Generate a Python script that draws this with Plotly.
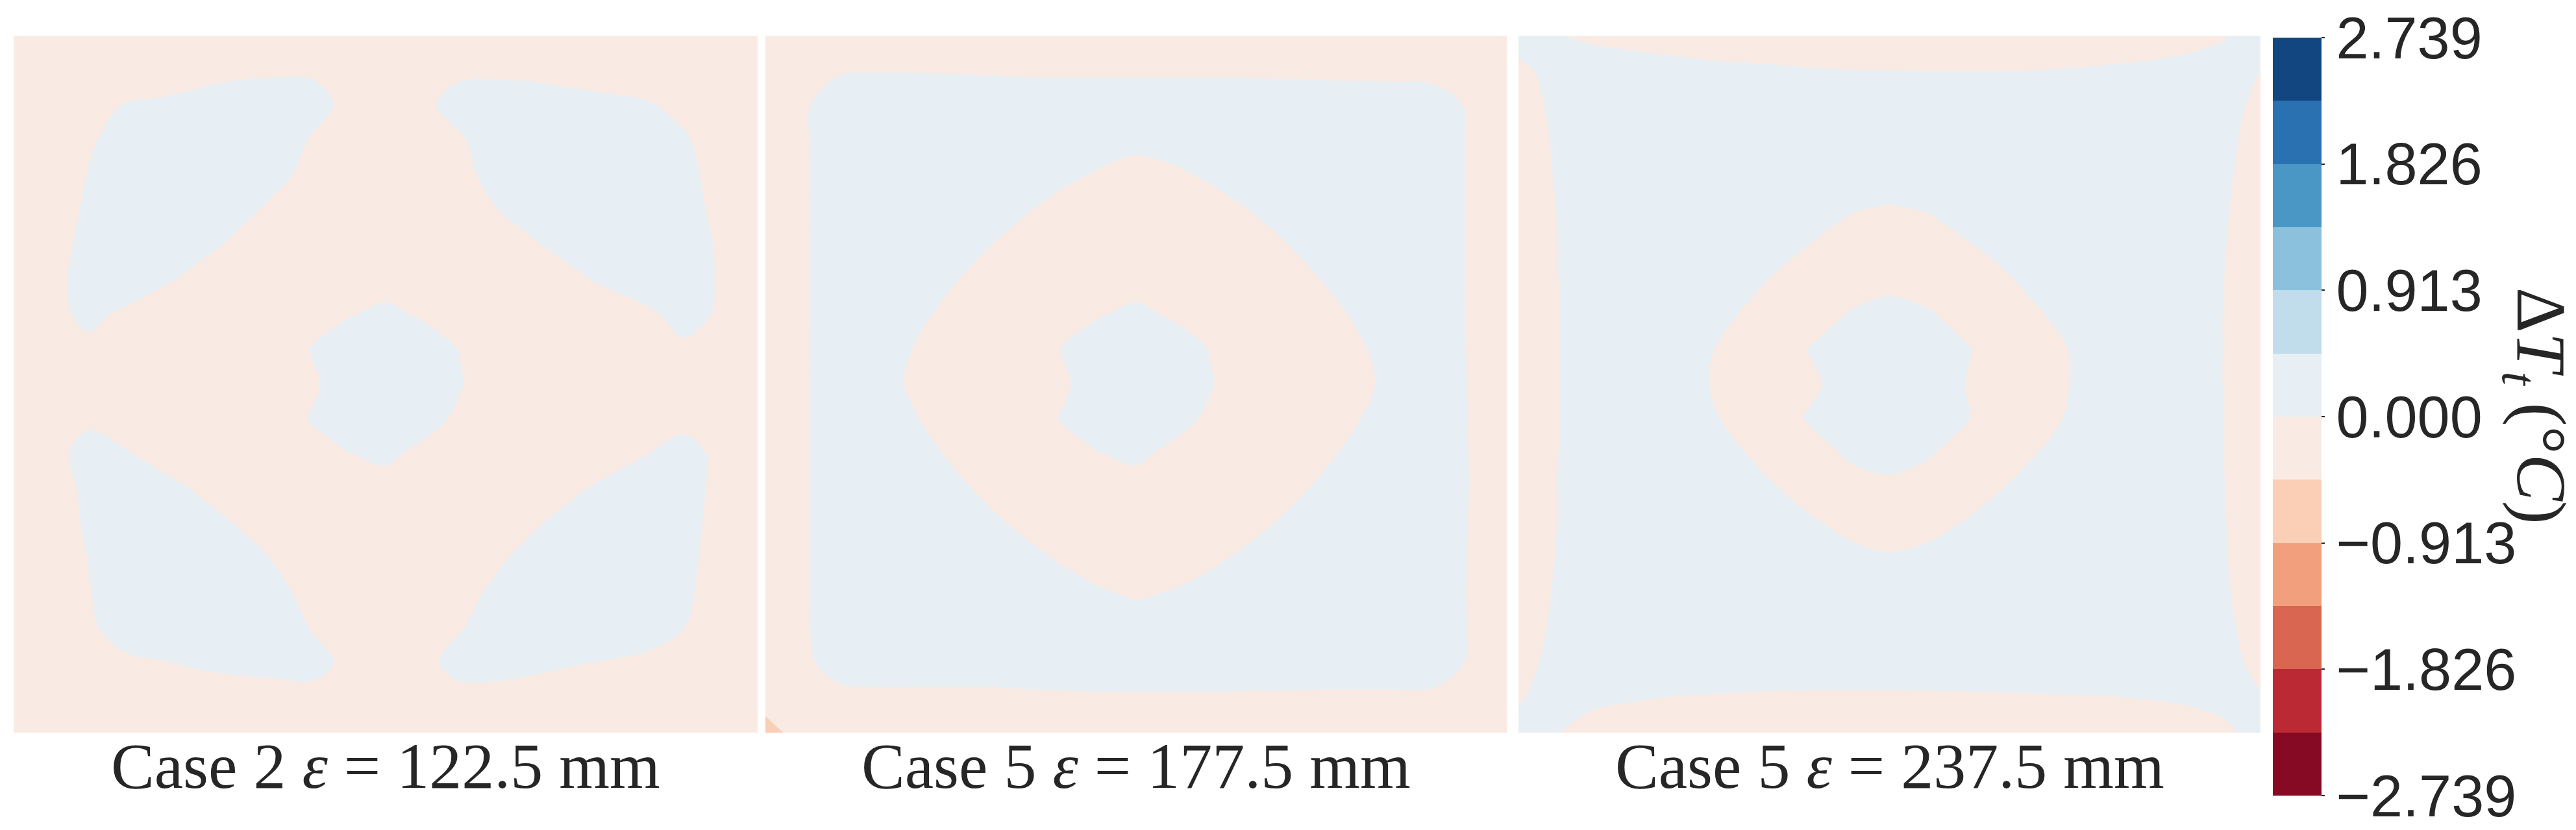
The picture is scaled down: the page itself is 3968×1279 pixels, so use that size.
import numpy as np
import plotly.graph_objects as go

# ---------------- data ----------------
# grid coordinates of each panel (fraction of the cross-section, 0 = left / top)
U = [0.0, 0.05, 0.1, 0.15, 0.2, 0.25, 0.3, 0.35, 0.4, 0.45, 0.5,
     0.55, 0.6, 0.65, 0.7, 0.75, 0.8, 0.85, 0.9, 0.95, 1.0]
V = [0.0, 0.05, 0.1, 0.15, 0.2, 0.25, 0.3, 0.35, 0.4, 0.45, 0.5,
     0.55, 0.6, 0.65, 0.7, 0.75, 0.8, 0.85, 0.9, 0.95, 1.0]

# temperature difference fields, in 0.01 degC (rows = V, columns = U)
CASE2_E122 = [
    [-10, -10, -10, -10, -8.8, -7.5, -6.4, -6, -5.7, -7.6, -9, -6.5, -6.2, -6.3, -6.6, -7.5, -8.3, -9, -10, -10, -10],
    [-10, -9, -7, -5, -3.8, -2.5, -1.4, -1, -0.7, -1.5, -5.5, -2, -1.2, -1.3, -1.6, -2.5, -3.3, -4.2, -7, -9, -10],
    [-10, -7, -2, 0.3, 1.2, 2.5, 3.6, 4, 2.2, -1.5, -6, -1.4, 2.5, 3.7, 3.4, 2.5, 1.7, 0.8, -2, -7, -10],
    [-10, -6, -1.2, 3.5, 6, 8, 8, 4, -0.5, -4, -9, -4, -0.8, 4, 8.4, 7.5, 6.7, 5, 1, -4, -10],
    [-10, -5, 0.2, 5, 8, 8.8, 5.3, 1.8, -1.8, -5, -9, -5, -1.9, 2.3, 6.4, 10, 10, 7, 2.2, -2.8, -7.8],
    [-9, -4, 1.2, 6, 9, 5.7, 2.1, -1.4, -5, -8, -10, -7, -3.7, -0.1, 3.4, 6.9, 10, 8, 3, -2, -7],
    [-8, -3, 2, 7, 5.7, 2.1, -1.4, -5, -8, -10, -10, -10, -7.8, -4.2, -0.7, 2.8, 6.4, 9, 4, -1, -6],
    [-7, -2.2, 2.8, 5, 1.3, -2.3, -6, -9, -7, -5, -3.3, -5, -7, -9, -5.3, -1.8, 1.8, 5.3, 4.2, -0.8, -5.8],
    [-7.5, -2.5, 2, -1.5, -5, -8, -10, -10, -4, -0.5, 1.7, -1, -4.5, -7, -10, -8.5, -5, -1.8, 3, -1, -6],
    [-9, -4.6, -1.9, -4.5, -8, -10, -10, -4.3, 0.3, 4, 6, 4, -0.3, -5, -10, -10, -7, -4, -1.5, -1.5, -6.5],
    [-10, -7, -6, -8, -10, -10, -10, -6, -1.3, 4, 10, 5, 0.5, -4.5, -9, -10, -10, -9, -5.8, -6, -9],
    [-9, -3.5, -1.2, -4, -8, -10, -10, -4.5, 0.5, 4, 6, 3, -1.5, -6, -10, -10, -8, -5, -2, -2.5, -7.5],
    [-7.5, -2.5, 2.5, 0.7, -2.8, -6, -9, -10, -3, -0.2, 1.5, -2, -4, -10, -10, -7, -3.5, -0.2, 2.5, -1.6, -6.6],
    [-8.5, -3.5, 1.5, 6, 2.5, -1, -4.6, -8, -6, -4.5, -3, -3.5, -4.5, -8.5, -5, -1.4, 2.1, 5.7, 3, -2, -7],
    [-9, -4, 1, 6, 6.8, 3.2, -0.3, -3.9, -7.4, -10, -10, -10, -7.8, -4.3, -0.8, 2.8, 6.3, 7.6, 2.6, -2.4, -7.4],
    [-10, -5, 0.1, 5, 10, 6.7, 3.2, -0.4, -3.9, -7.5, -10, -8, -4.6, -1, 2.5, 6, 10, 7, 2, -3, -8],
    [-10, -5.5, -0.5, 4.5, 9, 10, 5.3, 1.8, -1.8, -5, -9, -5.7, -2.1, 1.4, 4.9, 10, 9.5, 6.5, 1.5, -3.5, -8.5],
    [-10, -6.5, -1.5, 3.5, 4.6, 6, 6.7, 3.5, -0.3, -3.5, -8, -4, -0.4, 3.2, 6.7, 5.5, 4.5, 3.8, 0.1, -5, -10],
    [-10, -7, -2.5, -1.5, -0.4, 1, 1.7, 2.2, 2.6, -1.7, -6, -2, 2.6, 2.6, 1.7, 0.5, -0.5, -1.8, -3, -7, -10],
    [-10, -9, -8, -6.5, -5.4, -4.3, -3.1, -2.8, -2.4, -3.5, -6, -3.5, -2.4, -2.4, -3.2, -4.5, -5.5, -6.5, -8, -9, -10],
    [-10, -10, -10, -10, -10, -9, -8, -7.5, -7.4, -8.5, -10, -8, -7.4, -7.4, -8.3, -9.5, -10, -10, -10, -10, -10],
]

CASE5_E177 = [
    [-6, -6, -6, -6, -6, -6, -6, -6, -6, -6, -6, -6, -6, -6, -6, -6, -6, -6, -6, -6, -6],
    [-6, -3, -0.6, -0.3, -0.3, -0.5, -0.7, -1, -1, -1, -1, -1, -1, -1, -1.2, -1.4, -1.5, -1.6, -1.8, -3, -6],
    [-6, -1, 3.6, 4.7, 4.7, 4.5, 4.3, 4, 4, 4, 4, 4, 4, 4, 3.8, 3.6, 3.5, 3.4, 2.9, -0.7, -6],
    [-6, -0.9, 4.1, 9, 10, 10, 10, 7.7, 5.1, 3, 1.6, 2.6, 4.6, 7.1, 10, 10, 10, 9, 4.3, -0.7, -6],
    [-6, -0.9, 4.1, 9, 10, 10, 6.9, 4, 1.4, -0.7, -2.1, -1.1, 0.9, 3.4, 6.3, 10, 10, 9, 4.3, -0.7, -6],
    [-6, -0.9, 4.1, 9, 10, 6.7, 3.5, 0.5, -2.1, -4.2, -6, -4.6, -2.5, -0.1, 2.9, 6, 10, 9, 4.3, -0.7, -6],
    [-6, -0.9, 4.1, 9, 6.9, 3.6, 0.3, -2.7, -5.5, -8, -9.7, -8.5, -6.1, -3.2, -0.3, 2.9, 6.4, 9, 4.3, -0.7, -6],
    [-6, -0.9, 4.1, 7.8, 4.2, 0.7, -2.6, -5.5, -7, -5, -3.3, -5, -7, -6.3, -3.2, 0.1, 3.5, 7.2, 4.3, -0.7, -6],
    [-6, -0.9, 4.1, 5.5, 1.8, -1.8, -5.3, -7, -4, -0.5, 1.7, -1, -4.5, -7, -6, -2.5, 1, 4.8, 4.3, -0.7, -6],
    [-6, -0.9, 4.1, 3.6, -0.2, -3.8, -7.5, -4.3, 0.3, 4, 6, 4, -0.3, -5, -8.3, -4.6, -0.9, 2.9, 4.3, -0.5, -6],
    [-6, -1, 3.9, 2.8, -1, -4.5, -8, -6, -1.3, 4, 10, 5, 0.5, -4.5, -8, -5.3, -1.7, 2.1, 4.6, -0.4, -6],
    [-6, -1, 3.9, 4.3, 0.5, -3, -6.6, -4.5, 0.5, 4, 6, 3, -1.5, -5, -7.4, -3.7, -0.2, 3.6, 4.6, -0.3, -6],
    [-6, -1, 3.9, 6.5, 2.7, -0.8, -4.1, -7.6, -3, -0.2, 1.5, -2, -4, -8.3, -4.7, -1.5, 2, 5.7, 4.6, -0.2, -6],
    [-6, -1, 3.9, 9, 5.3, 1.8, -1.4, -4.6, -6, -4.5, -3, -3.5, -4.5, -5.2, -2.1, 1.1, 4.6, 8, 4.6, -0.1, -6],
    [-6, -1, 3.9, 9, 8, 4.8, 1.5, -1.4, -4, -6.5, -8.3, -6.9, -4.5, -2, 0.9, 4.1, 7.6, 9, 4.6, -0.3, -6],
    [-6, -1, 3.9, 9, 10, 8, 4.8, 1.9, -0.7, -2.8, -4.2, -3.2, -1.2, 1.3, 4.2, 7.4, 10, 9, 4.6, -0.4, -6],
    [-6, -1, 3.9, 9, 10, 10, 10, 5.4, 2.8, 0.7, -0.7, 0.4, 2.4, 4.9, 10, 10, 10, 9, 4.6, -0.5, -6],
    [-6, -1, 3.9, 9, 9, 9, 9, 9, 6.6, 4.5, 3.1, 4.1, 6.2, 9, 9, 9, 9, 9, 4.6, -0.4, -6],
    [-6, -1.5, 2.7, 3.4, 3.4, 3.4, 3.4, 3.6, 3.8, 4, 4.2, 4.2, 4.2, 4, 4, 3.8, 3.8, 3.8, 3.4, -0.6, -6],
    [-8, -4, -1.9, -1.6, -1.6, -1.6, -1.6, -1.2, -1, -0.8, -0.8, -0.8, -0.8, -1, -1, -1.2, -1.2, -1.2, -1.3, -4, -6],
    [-80, -8, -6, -6, -6, -6, -6, -6, -6, -6, -6, -6, -6, -6, -6, -6, -6, -6, -6, -6, -6],
]

CASE5_E237 = [
    [3.8, 0.5, -1.3, -2.1, -2.8, -3.4, -3.8, -4.2, -4.6, -4.9, -5, -5.1, -5.1, -5.1, -4.9, -4.6, -4.1, -3.5, -2.6, -0.5, 4],
    [-2, 3, 3.7, 2.9, 2.2, 1.6, 1.2, 0.8, 0.4, 0.1, 0.1, -0.1, -0.1, -0.1, 0.1, 0.4, 0.9, 1.5, 2.4, 3, -0.3],
    [-3.5, 1.5, 6.5, 7.9, 7.2, 6.6, 6.2, 5.8, 5.4, 5.1, 5, 4.9, 4.9, 4.9, 5.1, 5.4, 5.9, 6.5, 7.4, 3, -2],
    [-4.2, 0.8, 5.8, 10, 10, 10, 10, 10, 10, 8, 6.8, 8, 10, 10, 10, 10, 10, 10, 7, 2, -3],
    [-4.6, 0.4, 5.4, 10, 10, 10, 10, 9, 6.5, 4.4, 4, 4.2, 6.3, 8.8, 10, 10, 10, 10, 6.4, 1.4, -3.6],
    [-5, -0.1, 5, 10, 10, 10, 8.5, 5.5, 2.9, 0.3, -0.7, 0.3, 2.7, 5.3, 8.3, 10, 10, 10, 5.8, 0.8, -4.2],
    [-5.2, -0.2, 4.8, 10, 10, 8.6, 5.3, 2.3, -0.5, -2.9, -4.5, -3.1, -0.7, 2, 5, 8.3, 10, 10, 5.4, 0.4, -4.6],
    [-5.4, -0.4, 4.6, 10, 9.2, 5.7, 2.3, -0.9, -3.9, -4, -2.4, -4, -4.1, -1.1, 2.1, 5.4, 9, 10, 5.1, 0.1, -4.9],
    [-5.5, -0.5, 4.5, 10, 6.7, 3.1, -0.3, -3.8, -3.5, 0.8, 2.6, 1, -3, -4, -0.6, 2.8, 6.4, 10, 5, -0.1, -5],
    [-5.6, -0.6, 4.4, 8.4, 4.7, 1, -2.6, -4, 1, 5, 7, 5, 1, -4, -2.9, 0.7, 4.4, 8, 4.9, -0.1, -5.1],
    [-5.6, -0.6, 4.4, 9, 5.5, 0.7, -4, -6, -1, 4, 10, 5, 0.2, -4.5, -4.1, 0.7, 5, 9, 4.9, -0.1, -5.1],
    [-5.5, -0.5, 4.5, 9, 5.2, 1.5, -2, -3.5, 1.5, 5, 7, 4.5, 0.8, -4, -2.3, 1.2, 4.9, 9, 5, 0.1, -5],
    [-5.4, -0.4, 4.6, 10, 7.4, 3.8, 0.4, -3, -3, 1.5, 3, 0.8, -3, -3.3, 0.1, 3.5, 7.1, 10, 5.1, 0.1, -4.9],
    [-5.3, -0.3, 4.7, 10, 9.8, 6.5, 3.1, 0.1, -2.9, -3.5, -2, -3.5, -3.2, -0.2, 2.9, 6.2, 10, 10, 5.2, 0.2, -4.8],
    [-5.2, -0.2, 4.8, 10, 10, 9.4, 6.2, 3.1, 0.5, -1.9, -3.5, -2, 0.3, 2.9, 6, 9.2, 10, 10, 5.4, 0.4, -4.6],
    [-4.9, 0.1, 5.1, 10, 10, 10, 9.5, 6.5, 3.9, 1.7, 0.8, 1.6, 3.7, 6.3, 9.3, 10, 10, 10, 5.6, 0.6, -4.4],
    [-4.4, 0.6, 5.6, 10, 10, 10, 10, 10, 7.5, 5.4, 4, 5.3, 7.3, 10, 10, 10, 10, 10, 6, 1, -4],
    [-3.8, 1.2, 6.2, 10, 10, 9.5, 9.2, 9, 8.9, 8.9, 7.7, 9, 9.1, 9.2, 9.4, 9.6, 9.8, 10, 6.7, 1.7, -3.3],
    [-2.8, 2.2, 6.8, 5.7, 5, 4.5, 4.2, 4, 3.9, 3.9, 3.9, 4, 4.1, 4.2, 4.4, 4.6, 4.8, 5.3, 6.1, 2.8, -2.2],
    [-0.8, 4, 1.8, 0.7, -0.1, -0.5, -0.8, -1, -1.1, -1.1, -1.1, -1, -0.9, -0.8, -0.6, -0.4, -0.2, 0.3, 1.1, 3, 0.5],
    [3, 0.3, -3.2, -4.3, -5, -5.5, -5.8, -6, -6.1, -6.1, -6.1, -6, -5.9, -5.8, -5.6, -5.4, -5.2, -4.7, -3.9, -2, 3],
]

PANEL_FIELDS = [CASE2_E122, CASE5_E177, CASE5_E237]
PANEL_CAPTIONS = ["Case 2 <i>ε</i> = 122.5 mm",
                  "Case 5 <i>ε</i> = 177.5 mm",
                  "Case 5 <i>ε</i> = 237.5 mm"]

LEVEL_START = -2.739
LEVEL_END = 2.739
LEVEL_STEP = 0.4565
TICK_VALS = [-2.739, -1.826, -0.913, 0.0, 0.913, 1.826, 2.739]
TICK_TEXT = ["\u22122.739", "\u22121.826", "\u22120.913", "0.000", "0.913", "1.826", "2.739"]
BIN_COLORS = ["#860a24", "#bb2a34", "#d96651", "#f29f7e", "#fbceb6", "#f9ebe3",
              "#e7eff4", "#c1ddeb", "#8bc1dc", "#4a97c5", "#2a71b2", "#114680"]

# ---------------- figure ----------------
W, H = 3968, 1279
PANEL_X_PX = [(13, 1159), (1171, 2313), (2331, 3474)]
PANEL_Y_PX = (47, 1121)
CBAR_X_PX = (3493, 3568)
CBAR_Y_PX = (50, 1218)

n_bins = len(BIN_COLORS)
stepped = []
for k, c in enumerate(BIN_COLORS):
    stepped.append([k / n_bins, c])
    stepped.append([(k + 1) / n_bins, c])

fig = go.Figure()
layout_axes = {}
for i, (field, (x0, x1)) in enumerate(zip(PANEL_FIELDS, PANEL_X_PX)):
    n = i + 1
    xa = "x" if n == 1 else f"x{n}"
    ya = "y" if n == 1 else f"y{n}"
    fig.add_trace(go.Contour(
        x=U, y=V, z=np.array(field, dtype=float) / 100.0,
        coloraxis="coloraxis",
        autocontour=False,
        contours=dict(start=LEVEL_START, end=LEVEL_END, size=LEVEL_STEP,
                      coloring="fill", showlines=False),
        line=dict(width=0, smoothing=1.0),
        hoverinfo="skip",
        xaxis=xa, yaxis=ya,
    ))
    layout_axes[f"xaxis{n if n > 1 else ''}"] = dict(
        domain=[x0 / W, x1 / W], range=[0, 1], visible=False, fixedrange=True,
        anchor=ya)
    layout_axes[f"yaxis{n if n > 1 else ''}"] = dict(
        domain=[1 - PANEL_Y_PX[1] / H, 1 - PANEL_Y_PX[0] / H], range=[1, 0],
        visible=False, fixedrange=True, anchor=xa)

# colour-bar carrier: the level scale itself (kept outside its hidden axis range)
fig.add_trace(go.Heatmap(
    z=[TICK_VALS], colorscale=stepped, zmin=LEVEL_START, zmax=LEVEL_END,
    xaxis="x4", yaxis="y4", hoverinfo="skip", showscale=True,
    colorbar=dict(
        thickness=CBAR_X_PX[1] - CBAR_X_PX[0], thicknessmode="pixels",
        len=(CBAR_Y_PX[1] - CBAR_Y_PX[0]) / H, lenmode="fraction",
        x=CBAR_X_PX[0] / W, xanchor="left", xpad=0,
        y=1 - (CBAR_Y_PX[0] + CBAR_Y_PX[1]) / 2 / H, yanchor="middle", ypad=0,
        outlinewidth=0,
        ticks="outside", ticklen=5, tickwidth=2, tickcolor="#262626",
        tickvals=TICK_VALS, ticktext=TICK_TEXT,
        ticklabeloverflow="allow",
        tickfont=dict(family="Liberation Sans, Arial, sans-serif", size=90, color="#262626"),
    ),
))
layout_axes["xaxis4"] = dict(domain=[0.999, 1.0], range=[100, 101], visible=False,
                             fixedrange=True, anchor="y4")
layout_axes["yaxis4"] = dict(domain=[0.0, 0.001], range=[100, 101], visible=False,
                             fixedrange=True, anchor="x4")

annotations = []
serif = "Liberation Serif, Times New Roman, serif"
for (x0, x1), cap in zip(PANEL_X_PX, PANEL_CAPTIONS):
    annotations.append(dict(
        text=cap, x=(x0 + x1) / 2 / W, y=1 - 1172 / H, xref="paper", yref="paper",
        xanchor="center", yanchor="middle", showarrow=False,
        font=dict(family=serif, size=100, color="#262626")))

annotations.append(dict(
    text="Δ<i>T</i><sub><i>t</i></sub> (°<i>C</i>)",
    x=3898 / W, y=1 - 617 / H, xref="paper", yref="paper",
    xanchor="center", yanchor="middle", textangle=90, showarrow=False,
    font=dict(family=serif, size=108, color="#262626")))

fig.update_layout(
    width=W, height=H,
    margin=dict(l=0, r=0, t=0, b=0, pad=0, autoexpand=False),
    paper_bgcolor="white", plot_bgcolor="white",
    showlegend=False,
    coloraxis=dict(colorscale=stepped, cmin=LEVEL_START, cmax=LEVEL_END, showscale=False),
    annotations=annotations,
    **layout_axes,
)

fig.write_html("out.html")
